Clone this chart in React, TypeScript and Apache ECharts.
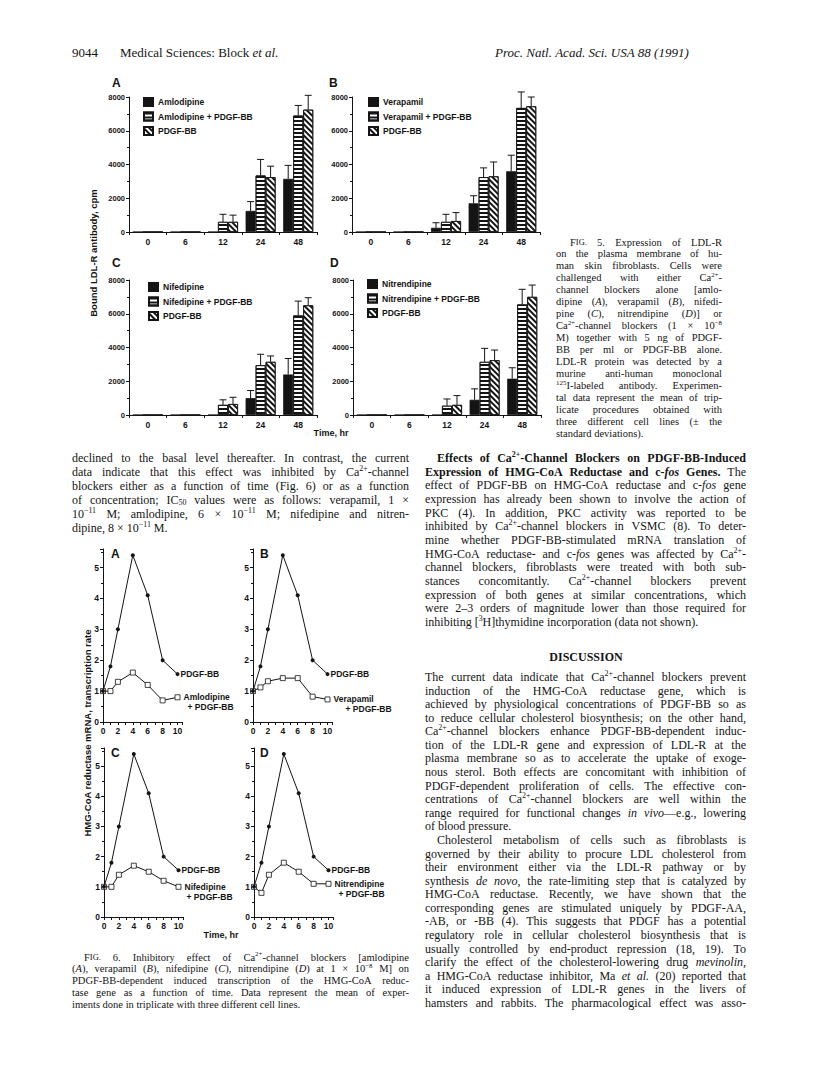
import React, { useEffect, useRef } from 'react';
import * as echarts from 'echarts';

// ---------------- Data: Fig. 5 (bound LDL-R antibody, cpm) ----------------
const fig5Times = ['0', '6', '12', '24', '48'];
const fig5Panels = ['A', 'B', 'C', 'D'];
const fig5Drugs = ['Amlodipine', 'Verapamil', 'Nifedipine', 'Nitrendipine'];
const fig5DrugAlone = [
  [0, 0, 0, 1250, 3150],
  [0, 0, 250, 1700, 3600],
  [0, 0, 0, 1000, 2400],
  [0, 0, 0, 900, 2150],
];
const fig5DrugAloneSD = [
  [0, 0, 0, 550, 800],
  [0, 0, 300, 450, 950],
  [0, 0, 0, 450, 950],
  [0, 0, 0, 650, 650],
];
const fig5DrugPlus = [
  [0, 0, 600, 3350, 6900],
  [0, 0, 600, 3250, 7350],
  [0, 0, 600, 2950, 5900],
  [0, 0, 550, 3150, 6550],
];
const fig5DrugPlusSD = [
  [0, 0, 450, 950, 600],
  [0, 0, 450, 550, 950],
  [0, 0, 300, 650, 850],
  [0, 0, 400, 800, 900],
];
const fig5Pdgf = [
  [0, 0, 600, 3250, 7250],
  [0, 0, 650, 3300, 7450],
  [0, 0, 650, 3150, 6500],
  [0, 0, 600, 3250, 7000],
];
const fig5PdgfSD = [
  [0, 0, 400, 650, 850],
  [0, 0, 500, 850, 550],
  [0, 0, 400, 350, 450],
  [0, 0, 550, 600, 700],
];
const fig5YTicks = { min: 0, max: 8000, step: 2000 };

// ---------------- Data: Fig. 6 (HMG-CoA reductase transcription rate) ----------------
const fig6Hours = [0, 1, 2, 4, 6, 8, 10];
const fig6Pdgf = [
  [1, 1.8, 3, 5.4, 4.1, 2, 1.55],
  [1, 1.8, 3, 5.4, 4.1, 2, 1.55],
  [1, 1.8, 3, 5.4, 4.1, 2, 1.55],
  [1, 1.8, 3, 5.4, 4.1, 2, 1.55],
];
const fig6DrugPlus = [
  [1, 1, 1.3, 1.6, 1.2, 0.7, 0.8],
  [1, 1.12, 1.32, 1.42, 1.42, 0.82, 0.73],
  [1, 1, 1.4, 1.7, 1.5, 1.2, 1.0],
  [1, 0.8, 1.4, 1.8, 1.5, 1.1, 1.1],
];
const fig6Drugs = ['Amlodipine', 'Verapamil', 'Nifedipine', 'Nitrendipine'];

// ---------------- Text ----------------
const headerLeftNum = '9044';
const headerLeft = 'Medical Sciences: Block _et al._';
const headerRight = '_Proc. Natl. Acad. Sci. USA 88 (1991)_';

const leftColumn = [
  'declined to the basal level thereafter. In contrast, the current',
  'data indicate that this effect was inhibited by Ca^2+^-channel',
  'blockers either as a function of time (Fig. 6) or as a function',
  'of concentration; IC~50~ values were as follows: verapamil, 1 ×',
  '10^−11^ M; amlodipine, 6 × 10^−11^ M; nifedipine and nitren-',
  'dipine, 8 × 10^−11^ M.¶',
];
const fig5Caption = [
  '»F{IG.} 5.  Expression of LDL-R',
  'on the plasma membrane of hu-',
  'man skin fibroblasts. Cells were',
  'challenged with either Ca^2+^-',
  'channel blockers alone [amlo-',
  'dipine (_A_), verapamil (_B_), nifedi-',
  'pine (_C_), nitrendipine (_D_)] or',
  'Ca^2+^-channel blockers (1 × 10^−8^',
  'M) together with 5 ng of PDGF-',
  'BB per ml or PDGF-BB alone.',
  'LDL-R protein was detected by a',
  'murine anti-human monoclonal',
  '^125^I-labeled antibody. Experimen-',
  'tal data represent the mean of trip-',
  'licate procedures obtained with',
  'three different cell lines (± the',
  'standard deviations).¶',
];
const rightSection = [
  '»*Effects of Ca^2+^-Channel Blockers on PDGF-BB-Induced*',
  '*Expression of HMG-CoA Reductase and c-_fos_ Genes.* The',
  'effect of PDGF-BB on HMG-CoA reductase and c-_fos_ gene',
  'expression has already been shown to involve the action of',
  'PKC (4). In addition, PKC activity was reported to be',
  'inhibited by Ca^2+^-channel blockers in VSMC (8). To deter-',
  'mine whether PDGF-BB-stimulated mRNA translation of',
  'HMG-CoA reductase- and c-_fos_ genes was affected by Ca^2+^-',
  'channel blockers, fibroblasts were treated with both sub-',
  'stances concomitantly. Ca^2+^-channel blockers prevent',
  'expression of both genes at similar concentrations, which',
  'were 2–3 orders of magnitude lower than those required for',
  'inhibiting [^3^H]thymidine incorporation (data not shown).¶',
];
const discussionTitle = 'DISCUSSION';
const discussion = [
  'The current data indicate that Ca^2+^-channel blockers prevent',
  'induction of the HMG-CoA reductase gene, which is',
  'achieved by physiological concentrations of PDGF-BB so as',
  'to reduce cellular cholesterol biosynthesis; on the other hand,',
  'Ca^2+^-channel blockers enhance PDGF-BB-dependent induc-',
  'tion of the LDL-R gene and expression of LDL-R at the',
  'plasma membrane so as to accelerate the uptake of exoge-',
  'nous sterol. Both effects are concomitant with inhibition of',
  'PDGF-dependent proliferation of cells. The effective con-',
  'centrations of Ca^2+^-channel blockers are well within the',
  'range required for functional changes _in vivo_—e.g., lowering',
  'of blood pressure.¶',
  '»Cholesterol metabolism of cells such as fibroblasts is',
  'governed by their ability to procure LDL cholesterol from',
  'their environment either via the LDL-R pathway or by',
  'synthesis _de novo_, the rate-limiting step that is catalyzed by',
  'HMG-CoA reductase. Recently, we have shown that the',
  'corresponding genes are stimulated uniquely by PDGF-AA,',
  '-AB, or -BB (4). This suggests that PDGF has a potential',
  'regulatory role in cellular cholesterol biosynthesis that is',
  'usually controlled by end-product repression (18, 19). To',
  'clarify the effect of the cholesterol-lowering drug _mevinolin_,',
  'a HMG-CoA reductase inhibitor, Ma _et al._ (20) reported that',
  'it induced expression of LDL-R genes in the livers of',
  'hamsters and rabbits. The pharmacological effect was asso-',
];
const fig6Caption = [
  '»F{IG.} 6.  Inhibitory effect of Ca^2+^-channel blockers [amlodipine',
  '(_A_), verapamil (_B_), nifedipine (_C_), nitrendipine (_D_) at 1 × 10^−8^ M] on',
  'PDGF-BB-dependent induced transcription of the HMG-CoA reduc-',
  'tase gene as a function of time. Data represent the mean of exper-',
  'iments done in triplicate with three different cell lines.¶',
];

// ---------------- Styling / layout ----------------
const SANS = '"Liberation Sans", Arial, sans-serif';
const SERIF = '"Liberation Serif", "Times New Roman", serif';
const INK = '#141414';

const f5Grids = [
  { left: 129, top: 97 },
  { left: 352, top: 97 },
  { left: 129, top: 280 },
  { left: 353, top: 280 },
];
const F5W = 188;
const F5H = 135;
const f5Legend = [
  { left: 143, top: 97 },
  { left: 368, top: 97 },
  { left: 148, top: 282 },
  { left: 367, top: 279 },
];
const f5Letters = [
  [112, 83],
  [329, 83],
  [112, 263],
  [330, 263],
];
const BAR_W = 10;

const f6Grids = [
  { left: 103, top: 549, height: 173 },
  { left: 253, top: 549, height: 173 },
  { left: 104, top: 748, height: 169 },
  { left: 254, top: 748, height: 169 },
];
const F6W = 79;
const f6Letters = [
  [111, 554],
  [260, 554],
  [111, 753],
  [260, 753],
];
const f6DrugLabelIndent = [4, 12, 2, 4];

// ---------------- Text layout helpers ----------------
type Seg = { t: string; b: boolean; i: boolean; sup: boolean; sub: boolean; sc: boolean };
let measureCtx: CanvasRenderingContext2D | null = null;
function measure(font: string, t: string) {
  if (!measureCtx) measureCtx = document.createElement('canvas').getContext('2d');
  measureCtx!.font = font;
  return measureCtx!.measureText(t).width;
}
function parseWords(line: string): Seg[][] {
  const words: Seg[][] = [];
  let cur: Seg[] = [];
  let buf = '';
  const st = { b: false, i: false, sup: false, sub: false, sc: false };
  const flush = () => {
    if (buf) {
      cur.push({ t: buf, ...st });
      buf = '';
    }
  };
  const endWord = () => {
    flush();
    if (cur.length) {
      words.push(cur);
      cur = [];
    }
  };
  for (const ch of line) {
    if (ch === '*') { flush(); st.b = !st.b; }
    else if (ch === '_') { flush(); st.i = !st.i; }
    else if (ch === '^') { flush(); st.sup = !st.sup; }
    else if (ch === '~') { flush(); st.sub = !st.sub; }
    else if (ch === '{') { flush(); st.sc = true; }
    else if (ch === '}') { flush(); st.sc = false; }
    else if (ch === ' ') endWord();
    else buf += ch;
  }
  endWord();
  return words;
}
function segInfo(s: Seg, size: number, family: string) {
  const k = s.sup || s.sub ? 0.66 : s.sc ? 0.8 : 1;
  const fs = size * k;
  const font = `${s.i ? 'italic ' : ''}${s.b ? 'bold ' : ''}${fs.toFixed(2)}px ${family}`;
  const w = measure(font, s.t);
  const dy = s.sup ? -0.3 * size : s.sub ? 0.22 * size : s.sc ? 0.07 * size : 0;
  return { font, w, dy };
}
function textEl(text: string, x: number, y: number, font: string, align = 'left', extra: any = {}) {
  return {
    type: 'text',
    x,
    y,
    silent: true,
    ...extra,
    style: {
      text,
      font,
      fill: INK,
      align,
      textAlign: align,
      verticalAlign: 'middle',
      textVerticalAlign: 'middle',
    },
  };
}
function layoutLines(
  lines: string[],
  x: number,
  y0: number,
  width: number,
  lh: number,
  size: number,
  family: string,
  indent: number,
  out: any[],
) {
  lines.forEach((raw, li) => {
    let line = raw;
    const justify = !line.endsWith('¶');
    line = line.replace('¶', '');
    let ind = 0;
    if (line.startsWith('»')) {
      ind = indent;
      line = line.slice(1);
    }
    const words = parseWords(line);
    const infos = words.map((w) => w.map((s) => ({ s, ...segInfo(s, size, family) })));
    const widths = infos.map((w) => w.reduce((a, b) => a + b.w, 0));
    const total = widths.reduce((a, b) => a + b, 0);
    const spaceW = measure(`${size}px ${family}`, ' ');
    let gap = spaceW;
    if (justify && words.length > 1) gap = Math.max(spaceW * 0.5, (width - ind - total) / (words.length - 1));
    let cx = x + ind;
    const y = y0 + li * lh;
    infos.forEach((w) => {
      w.forEach((seg) => {
        out.push(textEl(seg.s.t, cx, y + seg.dy, seg.font));
        cx += seg.w;
      });
      cx += gap;
    });
  });
}

// ---------------- Option ----------------
function buildOption() {
  const grid: any[] = [];
  const xAxis: any[] = [];
  const yAxis: any[] = [];
  const series: any[] = [];
  const legend: any[] = [];
  const graphics: any[] = [];

  const axisLineStyle = { show: true, lineStyle: { color: INK, width: 1 } };
  const tickLabel = (fs: number) => ({
    color: INK,
    fontFamily: SANS,
    fontWeight: 'bold',
    fontSize: fs,
  });

  const barStyles = [
    { color: INK, borderColor: INK, borderWidth: 0.8 },
    {
      color: '#ffffff',
      borderColor: INK,
      borderWidth: 0.8,
      decal: { symbol: 'rect', symbolSize: 1, color: INK, dashArrayX: [1, 0], dashArrayY: [1.6, 1.6], rotation: 0 },
    },
    {
      color: '#ffffff',
      borderColor: INK,
      borderWidth: 0.8,
      decal: { symbol: 'rect', symbolSize: 1, color: INK, dashArrayX: [1, 0], dashArrayY: [1.2, 1.8], rotation: Math.PI / 4 },
    },
  ];

  // ---- Fig. 5 ----
  fig5Panels.forEach((p, i) => {
    grid.push({ left: f5Grids[i].left, top: f5Grids[i].top, width: F5W, height: F5H });
    xAxis.push({
      type: 'category',
      gridIndex: i,
      data: fig5Times,
      axisLine: axisLineStyle,
      axisTick: { show: true, length: 3, lineStyle: { color: INK } },
      axisLabel: { ...tickLabel(8.5), margin: 5 },
      splitLine: { show: false },
    });
    yAxis.push({
      type: 'value',
      gridIndex: i,
      min: fig5YTicks.min,
      max: fig5YTicks.max,
      interval: fig5YTicks.step,
      axisLine: axisLineStyle,
      axisTick: { show: true, length: 3, lineStyle: { color: INK } },
      minorTick: { show: true, splitNumber: 2, length: 2, lineStyle: { color: INK } },
      axisLabel: { ...tickLabel(7.5), margin: 4, formatter: (v: number) => String(v) },
      splitLine: { show: false },
    });
    const names = [fig5Drugs[i], `${fig5Drugs[i]} + PDGF-BB`, 'PDGF-BB'];
    const vals = [fig5DrugAlone[i], fig5DrugPlus[i], fig5Pdgf[i]];
    const sds = [fig5DrugAloneSD[i], fig5DrugPlusSD[i], fig5PdgfSD[i]];
    names.forEach((name, k) => {
      series.push({
        type: 'bar',
        name,
        xAxisIndex: i,
        yAxisIndex: i,
        data: vals[k],
        barWidth: BAR_W,
        barGap: '0%',
        itemStyle: barStyles[k],
        emphasis: { disabled: true },
        silent: true,
        z: 2,
      });
      const off = (k - 1) * BAR_W;
      series.push({
        type: 'custom',
        xAxisIndex: i,
        yAxisIndex: i,
        silent: true,
        z: 3,
        data: vals[k].map((v, ci) => [ci, v, sds[k][ci]]),
        renderItem: (params: any, api: any) => {
          const e = api.value(2);
          if (!e) return { type: 'group', children: [] };
          const c = api.value(0);
          const v = api.value(1);
          const p0 = api.coord([c, v]);
          const p1 = api.coord([c, v + e]);
          const x = p0[0] + off;
          return {
            type: 'group',
            children: [
              { type: 'line', shape: { x1: x, y1: p0[1], x2: x, y2: p1[1] }, style: { stroke: INK, lineWidth: 1 } },
              { type: 'line', shape: { x1: x - 3.5, y1: p1[1], x2: x + 3.5, y2: p1[1] }, style: { stroke: INK, lineWidth: 1 } },
            ],
          };
        },
      });
    });
    legend.push({
      orient: 'vertical',
      left: f5Legend[i].left,
      top: f5Legend[i].top,
      padding: 0,
      itemWidth: 9,
      itemHeight: 8,
      itemGap: 4.5,
      icon: 'rect',
      selectedMode: false,
      textStyle: { color: INK, fontFamily: SANS, fontWeight: 'bold', fontSize: 8.5, lineHeight: 9 },
      data: names,
    });
    graphics.push(textEl(p, f5Letters[i][0], f5Letters[i][1], `bold 12px ${SANS}`));
  });
  graphics.push(
    textEl('Bound LDL-R antibody, cpm', 93, 253, `bold 9.5px ${SANS}`, 'center', { rotation: Math.PI / 2 }),
  );
  graphics.push(textEl('Time, hr', 331, 433, `bold 9px ${SANS}`, 'center'));

  // ---- Fig. 6 ----
  fig6Drugs.forEach((drug, j) => {
    const gi = 4 + j;
    grid.push({ left: f6Grids[j].left, top: f6Grids[j].top, width: F6W, height: f6Grids[j].height });
    xAxis.push({
      type: 'value',
      gridIndex: gi,
      min: 0,
      max: 10.6,
      interval: 2,
      axisLine: axisLineStyle,
      axisTick: { show: true, length: 3, lineStyle: { color: INK } },
      minorTick: { show: true, splitNumber: 2, length: 3, lineStyle: { color: INK } },
      axisLabel: {
        ...tickLabel(8.5),
        margin: 4,
        formatter: (v: number) => (v <= 10 && Math.abs(v % 2) < 1e-6 ? String(v) : ''),
      },
      splitLine: { show: false },
    });
    yAxis.push({
      type: 'value',
      gridIndex: gi,
      min: 0,
      max: 5.6,
      interval: 1,
      axisLine: axisLineStyle,
      axisTick: { show: true, length: 3, lineStyle: { color: INK } },
      minorTick: { show: true, splitNumber: 2, length: 2, lineStyle: { color: INK } },
      axisLabel: {
        ...tickLabel(8.5),
        margin: 4,
        formatter: (v: number) => (Math.abs(v - Math.round(v)) < 1e-6 ? String(v) : ''),
      },
      splitLine: { show: false },
    });
    const labelFont = { color: INK, fontFamily: SANS, fontWeight: 'bold', fontSize: 8.5 };
    series.push({
      type: 'line',
      name: `Fig6 PDGF-BB ${drug}`,
      xAxisIndex: gi,
      yAxisIndex: gi,
      data: fig6Hours.map((h, k) => [h, fig6Pdgf[j][k]]),
      symbol: 'circle',
      symbolSize: 4,
      itemStyle: { color: INK },
      lineStyle: { color: INK, width: 1 },
      endLabel: { show: true, formatter: 'PDGF-BB', distance: 3, ...labelFont },
      silent: true,
      z: 3,
    });
    series.push({
      type: 'line',
      name: `Fig6 ${drug} + PDGF-BB`,
      xAxisIndex: gi,
      yAxisIndex: gi,
      data: fig6Hours.map((h, k) => [h, fig6DrugPlus[j][k]]),
      symbol: 'rect',
      symbolSize: 5,
      itemStyle: { color: '#ffffff', borderColor: INK, borderWidth: 0.8 },
      lineStyle: { color: INK, width: 1 },
      endLabel: {
        show: true,
        distance: 6,
        offset: [0, 5],
        formatter: `{a|${drug}}\n{b|+ PDGF-BB}`,
        ...labelFont,
        rich: {
          a: { ...labelFont, lineHeight: 10 },
          b: { ...labelFont, lineHeight: 10, padding: [0, 0, 0, f6DrugLabelIndent[j]] },
        },
      },
      silent: true,
      z: 2,
    });
    graphics.push(textEl(fig5Panels[j], f6Letters[j][0], f6Letters[j][1], `bold 12px ${SANS}`));
  });
  graphics.push(
    textEl('HMG-CoA reductase mRNA, transcription rate', 87, 733, `bold 9.5px ${SANS}`, 'center', {
      rotation: Math.PI / 2,
    }),
  );
  graphics.push(textEl('Time, hr', 221, 935, `bold 9px ${SANS}`, 'center'));

  // ---- Running header ----
  graphics.push(textEl(headerLeftNum, 72, 52, `13px ${SERIF}`));
  layoutLines([headerLeft + '¶'], 120, 52, 300, 14, 13, SERIF, 0, graphics);
  layoutLines([headerRight + '¶'], 495, 52, 300, 14, 13, SERIF, 0, graphics);

  // ---- Body text ----
  layoutLines(leftColumn, 72, 458, 337, 14, 12, SERIF, 12, graphics);
  layoutLines(fig5Caption, 556, 242, 166, 11.95, 10.5, SERIF, 14, graphics);
  layoutLines(rightSection, 425, 458, 321, 13.67, 12, SERIF, 12, graphics);
  graphics.push(textEl(discussionTitle, 586, 657, `bold 12px ${SERIF}`, 'center'));
  layoutLines(discussion, 425, 677, 321, 13.58, 12, SERIF, 12, graphics);
  layoutLines(fig6Caption, 72, 957, 337, 11.8, 10.5, SERIF, 12, graphics);

  return {
    animation: false,
    backgroundColor: '#ffffff',
    grid,
    xAxis,
    yAxis,
    legend,
    series,
    graphic: { elements: graphics },
  };
}

export default function App() {
  const ref = useRef<HTMLDivElement>(null);
  useEffect(() => {
    const el = ref.current;
    if (!el) return;
    const chart = echarts.init(el, null, { renderer: 'svg' });
    chart.setOption(buildOption() as any);
    return () => chart.dispose();
  }, []);
  return (
    <div
      ref={ref}
      style={{ position: 'absolute', left: 0, top: 0, width: 816, height: 1078, background: '#ffffff' }}
    />
  );
}
